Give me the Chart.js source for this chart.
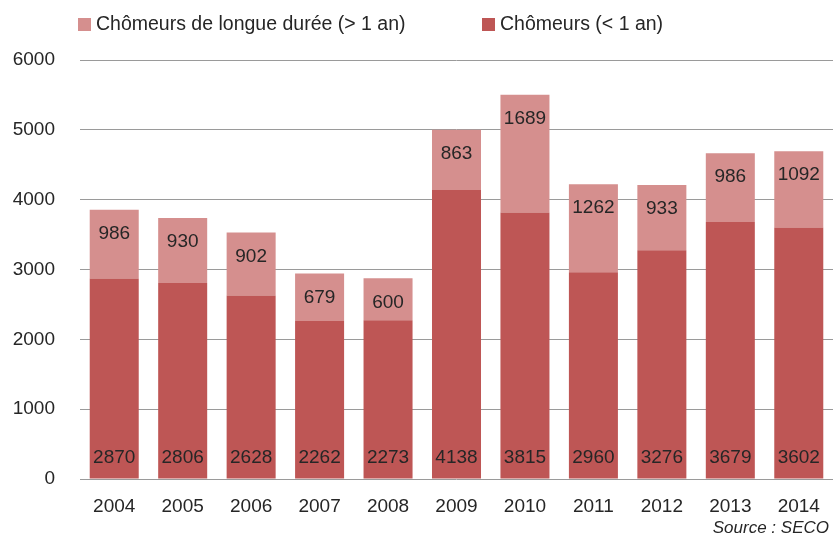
<!DOCTYPE html>
<html><head><meta charset="utf-8">
<script src="https://cdn.jsdelivr.net/npm/chart.js@4/dist/chart.umd.min.js"></script>
<style>
html,body{margin:0;padding:0;background:#fff;}
#wrap{position:relative;width:833px;height:536px;font-family:"Liberation Sans",Arial,sans-serif;color:#262626;}
canvas{position:absolute;left:0;top:0;}
.leg{position:absolute;top:12px;font-size:19.5px;white-space:nowrap;line-height:22px;}
.leg span.box{display:inline-block;width:13px;height:13px;margin-right:5px;vertical-align:-1px;}
#src{position:absolute;right:4px;top:518px;font-size:17px;font-style:italic;}
</style></head>
<body>
<div id="wrap">
<canvas id="c" width="833" height="536"></canvas>
<div class="leg" style="left:78px"><span class="box" style="background:#D58F8E"></span>Chômeurs de longue durée (&gt; 1 an)</div>
<div class="leg" style="left:482px"><span class="box" style="background:#BE5655"></span>Chômeurs (&lt; 1 an)</div>
<div id="src">Source : SECO</div>
</div>
<script>
const years = ["2004","2005","2006","2007","2008","2009","2010","2011","2012","2013","2014"];
const shortTerm = [2870,2806,2628,2262,2273,4138,3815,2960,3276,3679,3602];
const longTerm = [986,930,902,679,600,863,1689,1262,933,986,1092];
const yTicks = [0,1000,2000,3000,4000,5000,6000];
const FONT = '"Liberation Sans", Arial, sans-serif';

const labelPlugin = {
  id:'labels',
  afterDatasetsDraw(chart){
    const ctx = chart.ctx;
    ctx.save();
    ctx.font = '19px ' + FONT;
    ctx.fillStyle = '#262626';
    ctx.textAlign = 'center';
    ctx.textBaseline = 'middle';
    const m0 = chart.getDatasetMeta(0), m1 = chart.getDatasetMeta(1);
    m0.data.forEach((bar,i)=>{
      ctx.fillText(String(shortTerm[i]), bar.x, bar.base - 21);
    });
    m1.data.forEach((bar,i)=>{
      ctx.fillText(String(longTerm[i]), bar.x, bar.y + 24);
    });
    ctx.restore();
  }
};

new Chart(document.getElementById('c'),{
  type:'bar',
  data:{labels:years,datasets:[
    {label:'Chômeurs (< 1 an)',data:shortTerm,backgroundColor:'#BE5655',borderWidth:0,categoryPercentage:1,barPercentage:0.716},
    {label:'Chômeurs de longue durée (> 1 an)',data:longTerm,backgroundColor:'#D58F8E',borderWidth:0,categoryPercentage:1,barPercentage:0.716}
  ]},
  options:{
    responsive:false,animation:false,
    layout:{padding:{top:60,left:0,right:0,bottom:10}},
    plugins:{legend:{display:false},tooltip:{enabled:false}},
    scales:{
      x:{stacked:true,grid:{display:false},border:{display:false},
         ticks:{color:'#262626',font:{size:19,family:FONT,lineHeight:1},padding:10}},
      y:{stacked:true,min:0,max:6000,
         afterBuildTicks(ax){ax.ticks=yTicks.map(v=>({value:v}));},
         afterFit(ax){ax.width=80;},
         grid:{color:'#9a9a9a',lineWidth:1,drawTicks:false},border:{display:false},
         ticks:{color:'#262626',font:{size:19,family:FONT},padding:25,callback:v=>String(v)}}
    }
  },
  plugins:[labelPlugin]
});
</script>
</body></html>
